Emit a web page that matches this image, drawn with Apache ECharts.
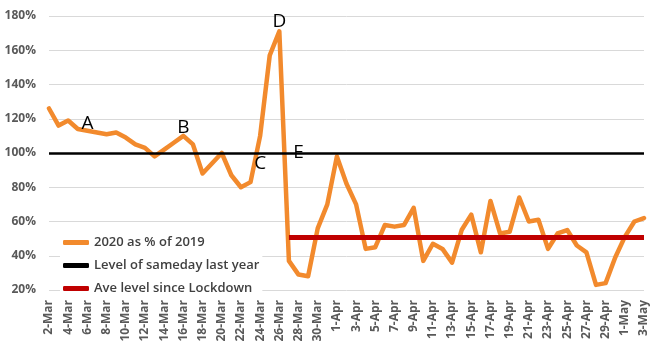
<!DOCTYPE html>
<html>
<head>
<meta charset="utf-8">
<script src="https://cdn.jsdelivr.net/npm/echarts@6/dist/echarts.min.js"></script>
<style>
  html, body { margin: 0; padding: 0; background: #fff; }
  #chart { width: 650px; height: 354px; }
</style>
</head>
<body>
<div id="chart"></div>
<script>
// dates on the x axis
const dates = [
  "2-Mar", "3-Mar", "4-Mar", "5-Mar", "6-Mar", "7-Mar", "8-Mar", "9-Mar", "10-Mar", "11-Mar",
  "12-Mar", "13-Mar", "14-Mar", "15-Mar", "16-Mar", "17-Mar", "18-Mar", "19-Mar", "20-Mar", "21-Mar",
  "22-Mar", "23-Mar", "24-Mar", "25-Mar", "26-Mar", "27-Mar", "28-Mar", "29-Mar", "30-Mar", "31-Mar",
  "1-Apr", "2-Apr", "3-Apr", "4-Apr", "5-Apr", "6-Apr", "7-Apr", "8-Apr", "9-Apr", "10-Apr",
  "11-Apr", "12-Apr", "13-Apr", "14-Apr", "15-Apr", "16-Apr", "17-Apr", "18-Apr", "19-Apr", "20-Apr",
  "21-Apr", "22-Apr", "23-Apr", "24-Apr", "25-Apr", "26-Apr", "27-Apr", "28-Apr", "29-Apr", "30-Apr",
  "1-May", "2-May", "3-May"
];

// 2020 as % of 2019
const pct2020 = [
  126, 116, 119, 114, 113, 112, 111, 112, 109, 105,
  103, 98, 102, 106, 110, 105, 88, 94, 100, 87,
  80, 83, 110, 157, 171, 37, 29, 28, 56, 70,
  98, 82, 70, 44, 45, 58, 57, 58, 68, 37,
  47, 44, 36, 55, 64, 42, 72, 53, 54, 74,
  60, 61, 44, 53, 55, 46, 42, 23, 24, 39,
  51, 60, 62
];

const sameDayLevel = 100;
const lockdownAvg = 51;
const lockdownStart = "27-Mar";

// letters on the chart
const notes = [
  { label: "A", date: "6-Mar", value: 117 },
  { label: "B", date: "16-Mar", value: 115 },
  { label: "C", date: "24-Mar", value: 94 },
  { label: "D", date: "26-Mar", value: 177 },
  { label: "E", date: "28-Mar", value: 100 }
];

const yTicks = { min: 20, max: 180, step: 20 };

const FONT = "'Open Sans', Lato, sans-serif";

const myChart = echarts.init(document.getElementById("chart"));
const option = {
  animation: false,
  grid: { left: 49, right: 3, top: 16, bottom: 64 },
  legend: {
    orient: "vertical",
    left: 60,
    top: 235,
    padding: [1, 3],
    backgroundColor: "#fff",
    icon: "roundRect",
    itemWidth: 26,
    itemHeight: 5,
    itemGap: 10,
    textStyle: { fontFamily: FONT, fontSize: 13, fontWeight: 600, color: "#404040" },
    data: ["2020 as % of 2019", "Level of sameday last year", "Ave level since Lockdown"]
  },
  xAxis: {
    type: "category",
    boundaryGap: false,
    data: dates,
    axisLine: { show: false },
    axisTick: { show: false },
    axisLabel: {
      rotate: 90,
      interval: 1,
      margin: 10,
      fontFamily: FONT,
      fontSize: 12,
      fontWeight: "bold",
      color: "#595959"
    }
  },
  yAxis: {
    type: "value",
    min: yTicks.min,
    max: yTicks.max,
    interval: yTicks.step,
    axisLine: { show: false },
    axisTick: { show: false },
    axisLabel: {
      formatter: "{value}%",
      margin: 13,
      fontFamily: FONT,
      fontSize: 12,
      fontWeight: "bold",
      color: "#595959"
    },
    splitLine: { lineStyle: { color: "#d9d9d9", width: 1 } }
  },
  series: [
    {
      name: "2020 as % of 2019",
      type: "line",
      data: pct2020,
      showSymbol: false,
      symbol: "none",
      itemStyle: { color: "#F28A2D" },
      lineStyle: { color: "#F28A2D", width: 4.5, join: "round", cap: "round" },
      markPoint: {
        silent: true,
        symbol: "rect",
        symbolSize: 1,
        itemStyle: { color: "rgba(0,0,0,0)" },
        label: {
          show: true,
          position: "inside",
          formatter: "{b}",
          fontFamily: FONT,
          fontSize: 19,
          color: "#000"
        },
        data: notes.map((n) => ({ name: n.label, coord: [n.date, n.value] }))
      }
    },
    {
      name: "Level of sameday last year",
      type: "line",
      data: [],
      itemStyle: { color: "#000" },
      markLine: {
        silent: true,
        symbol: "none",
        label: { show: false },
        lineStyle: { color: "#000", width: 2.5, type: "solid" },
        data: [{ yAxis: sameDayLevel }]
      }
    },
    {
      name: "Ave level since Lockdown",
      type: "line",
      data: [],
      itemStyle: { color: "#C00000" },
      markLine: {
        silent: true,
        symbol: "none",
        label: { show: false },
        lineStyle: { color: "#C00000", width: 5, type: "solid" },
        data: [[
          { coord: [lockdownStart, lockdownAvg] },
          { coord: [dates[dates.length - 1], lockdownAvg] }
        ]]
      }
    }
  ]
};
myChart.setOption(option);
</script>
</body>
</html>
